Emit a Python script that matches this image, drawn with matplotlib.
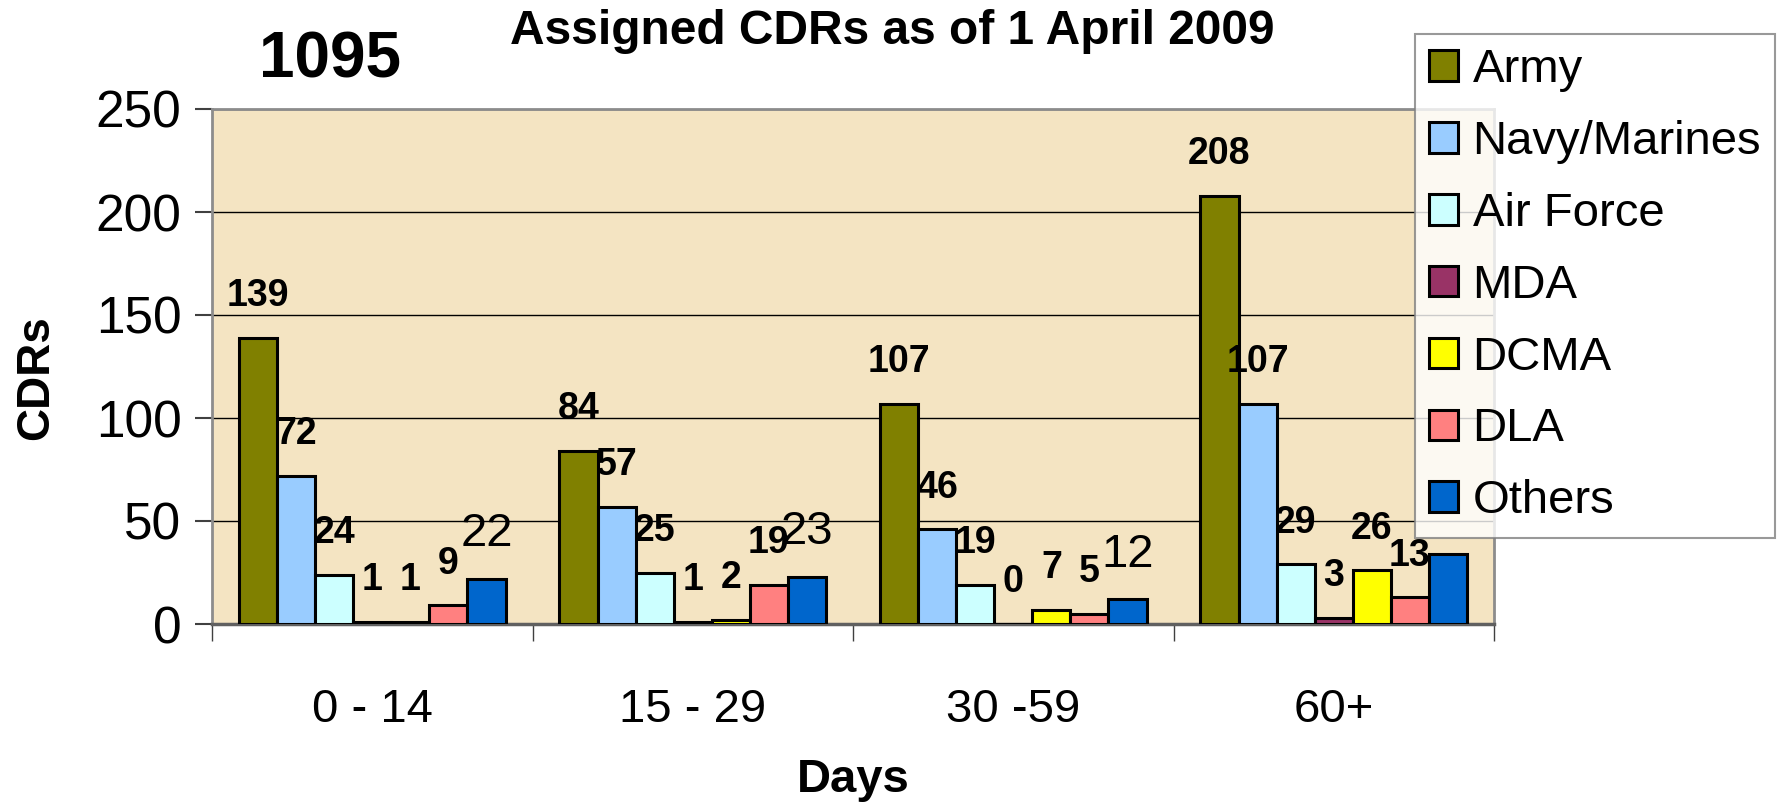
import matplotlib.pyplot as plt
import numpy as np

plt.rcParams['font.family'] = ['Liberation Sans', 'DejaVu Sans']

# data
groups = ['0 - 14', '15 - 29', '30 -59', '60+']
series = ['Army', 'Navy/Marines', 'Air Force', 'MDA', 'DCMA', 'DLA', 'Others']
army = [139, 84, 107, 208]
navy = [72, 57, 46, 107]
air_force = [24, 25, 19, 29]
mda = [1, 1, 0, 3]
dcma = [1, 2, 7, 26]
dla = [9, 19, 5, 13]
others = [22, 23, 12, 34]
others_labelled = [True, True, True, False]
total = 1095

colors = ['#808000', '#99CCFF', '#CCFFFF', '#993366', '#FFFF00', '#FF8080', '#0066CC']
values = [army, navy, air_force, mda, dcma, dla, others]

fig = plt.figure(figsize=(17.78, 8.07), dpi=100)
ax = fig.add_axes([212/1778, 1-624/807, 1282/1778, 515/807])
ax.set_facecolor('#F4E4C2')

x = np.arange(len(groups))
w = 0.832 / len(series)
for i, (name, vals, c) in enumerate(zip(series, values, colors)):
    pos = x - 0.416 + w * (i + 0.5)
    bars = ax.bar(pos, vals, w, color=c, edgecolor='black', linewidth=2.2,
                  label=name, zorder=3)
    for j, b in enumerate(bars):
        if name == 'Others':
            if not others_labelled[j]:
                continue
            ax.annotate(str(vals[j]), (b.get_x() + b.get_width()/2, b.get_height()),
                        xytext=(0, 32), textcoords='offset points',
                        ha='center', va='center', fontsize=34, zorder=5)
        else:
            ax.annotate(str(vals[j]), (b.get_x() + b.get_width()/2, b.get_height()),
                        xytext=(0, 30), textcoords='offset points',
                        ha='center', va='center', fontsize=27,
                        fontweight='bold', zorder=5)

ax.set_xlim(-0.5, len(groups) - 0.5)
ax.set_ylim(0, 250)
ax.set_yticks([0, 50, 100, 150, 200, 250])
ax.yaxis.grid(True, color='black', linewidth=1)
ax.set_axisbelow(True)

# group boundaries as major ticks, names as minor tick labels
ax.set_xticks(np.arange(-0.5, len(groups), 1.0))
ax.set_xticklabels([])
ax.set_xticks(x, minor=True)
ax.set_xticklabels(groups, minor=True)
ax.tick_params(axis='x', which='major', length=12, width=1, color='#404040', direction='out')
ax.tick_params(axis='x', which='minor', length=0, pad=46, labelsize=34)
ax.tick_params(axis='y', length=12, width=1.5, color='#404040', pad=10, labelsize=37)

for s in ['top', 'right', 'left']:
    ax.spines[s].set_color('#8C8C8C')
    ax.spines[s].set_linewidth(2)
ax.spines['bottom'].set_color('#606060')
ax.spines['bottom'].set_linewidth(2.5)

ax.set_ylabel('CDRs', fontsize=33, fontweight='bold')
ax.yaxis.set_label_coords(-0.137, 0.478)
ax.yaxis.label.set_va('center')
ax.set_xlabel('Days', fontsize=34, fontweight='bold')
ax.xaxis.set_label_coords(0.5, -0.303)
ax.xaxis.label.set_va('center')

fig.text(892/1778, 1-32/807, 'Assigned CDRs as of 1 April 2009',
         ha='center', va='center', fontsize=34.5, fontweight='bold')
fig.text(330/1778, 1-61/807, str(total),
         ha='center', va='center', fontsize=46, fontweight='bold')

leg = ax.legend(loc='upper left', bbox_to_anchor=(1415/1778, 1-34/807),
                bbox_transform=fig.transFigure, fontsize=34, frameon=True,
                fancybox=False, borderpad=0.3, labelspacing=0.59,
                handlelength=0.62, handleheight=0.62, handletextpad=0.3,
                borderaxespad=0)
leg.get_frame().set_edgecolor('#808080')
leg.get_frame().set_linewidth(1.5)
leg.set_zorder(10)

fig.savefig('out.png', dpi=100)
